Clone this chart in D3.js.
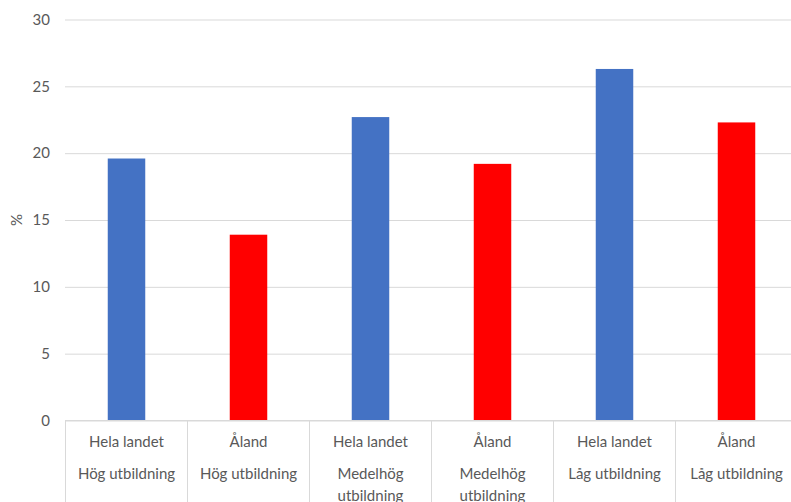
<!DOCTYPE html>
<html><head><meta charset="utf-8">
<script src="https://cdn.jsdelivr.net/npm/d3@7"></script>
<style>body{margin:0;background:#fff}svg{display:block}</style>
</head><body><svg id="c" width="791" height="502"></svg>
<script>
const regions = ["Hela landet","Åland","Hela landet","Åland","Hela landet","Åland"];
const levels = [["Hög utbildning"],["Hög utbildning"],["Medelhög","utbildning"],["Medelhög","utbildning"],["Låg utbildning"],["Låg utbildning"]];
const values = [19.6, 13.9, 22.7, 19.2, 26.3, 22.3];
const barColors = ["#4472C4","#FF0000","#4472C4","#FF0000","#4472C4","#FF0000"];
const yTicks = [0,5,10,15,20,25,30];

(function(){
const svg = d3.select("#c");
const mLeft = 65, mRight = 797, mTop = 19.5, mBottom = 420.5;
const font = "Lato, 'Liberation Sans', sans-serif";
const idx = d3.range(values.length);
const x = d3.scaleBand().domain(idx).range([mLeft, mRight]).paddingInner(0).paddingOuter(0);
const y = d3.scaleLinear().domain([0,30]).range([mBottom, mTop]);

// grid
const yAxis = d3.axisLeft(y).tickValues(yTicks).tickSize(-(mRight-mLeft)).tickPadding(15);
const gy = svg.append("g").attr("transform",`translate(${mLeft},0)`).call(yAxis);
gy.select(".domain").remove();
gy.selectAll(".tick line").attr("stroke","#d9d9d9").attr("stroke-width",1);
gy.selectAll(".tick text").attr("fill","#595959").attr("font-size",15).attr("font-family",font);

// bars
const bw = 37.5;
svg.append("g").selectAll("rect").data(idx).join("rect")
  .attr("x", i => x(i) + x.bandwidth()/2 - bw/2 + 0.5)
  .attr("width", bw)
  .attr("y", i => y(values[i]))
  .attr("height", i => y(0) - y(values[i]))
  .attr("fill", i => barColors[i]);

// category axis line and separators
svg.append("line").attr("x1",mLeft).attr("x2",mRight).attr("y1",mBottom).attr("y2",mBottom).attr("stroke","#d9d9d9");
const seps = idx.map(i => x(i)).concat([mRight]);
svg.append("g").selectAll("line").data(seps).join("line")
  .attr("x1", d => Math.round(d)+0.5).attr("x2", d => Math.round(d)+0.5)
  .attr("y1", mBottom).attr("y2", 502).attr("stroke","#d9d9d9");

// labels
const lab = svg.append("g").attr("fill","#595959").attr("font-size",15).attr("font-family",font).attr("text-anchor","middle");
idx.forEach(i => {
  const cx = x(i) + x.bandwidth()/2 + 0.5;
  lab.append("text").attr("x",cx).attr("y",447).text(regions[i]);
  levels[i].forEach((t,k) => {
    lab.append("text").attr("x",cx).attr("y",479 + k*22).text(t);
  });
});

// y title
svg.append("text").attr("transform","translate(22,220) rotate(-90)").attr("text-anchor","middle")
  .attr("fill","#595959").attr("font-size",15).attr("font-family",font).text("%");
})();
</script></body></html>
